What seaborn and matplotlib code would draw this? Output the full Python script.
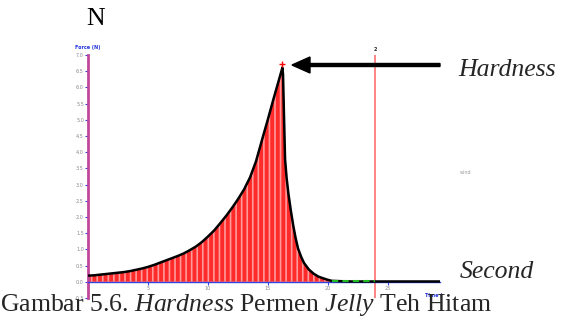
import matplotlib
matplotlib.use("Agg")
import matplotlib.pyplot as plt
import seaborn as sns
import pandas as pd

# ---- data ----
time_s = [0, 0.5, 1, 1.5, 2, 2.5, 3, 3.5, 4, 4.5, 5, 5.5, 6, 6.5, 7, 7.5, 8,
          8.5, 9, 9.5, 10, 10.5, 11, 11.5, 12, 12.5, 13, 13.5, 14, 14.5, 15,
          15.5, 16, 16.2, 16.25, 16.32, 16.42, 16.55, 16.7, 16.9, 17.1, 17.3,
          17.5, 17.75, 18.0, 18.4, 18.8, 19.2, 19.5, 19.9, 20.3, 21, 22, 23,
          24, 25, 26, 27, 28, 29.3]
force_n = [0.19, 0.20, 0.22, 0.24, 0.26, 0.28, 0.30, 0.33, 0.37, 0.41, 0.46,
           0.52, 0.59, 0.66, 0.73, 0.80, 0.88, 0.98, 1.09, 1.23, 1.40, 1.58,
           1.80, 2.03, 2.28, 2.55, 2.85, 3.22, 3.72, 4.38, 5.03, 5.70, 6.35,
           6.61, 6.40, 5.30, 3.78, 3.20, 2.72, 2.20, 1.74, 1.35, 1.03, 0.78,
           0.58, 0.38, 0.25, 0.16, 0.12, 0.07, 0.03, 0.02, 0.01, 0.01, 0.01,
           0.01, 0.01, 0.01, 0.01, 0.01]
peak_time, peak_force = 16.2, 6.61
marker_time = 23.9
green_time = [20.3, 21, 22, 23, 23.9]
green_force = [0.02, 0.02, 0.02, 0.02, 0.02]
x_ticks = [0, 5, 10, 15, 20, 25]
x_tick_labels = ["0", "5", "10", "15", "20", "25"]
y_ticks = [-0.5, 0.0, 0.5, 1.0, 1.5, 2.0, 2.5, 3.0, 3.5, 4.0, 4.5, 5.0, 5.5,
           6.0, 6.5, 7.0]
y_tick_labels = ["-0.5", "0.0", "0.5", "1.0", "1.5", "2.0", "2.5", "3.0", "3.5",
                 "4.0", "4.5", "5.0", "5.5", "6.0", "6.5", "7.0"]

df = pd.DataFrame({"time": time_s, "force": force_n})

sns.set_style("white")
plt.rcParams["font.family"] = ["Liberation Serif", "DejaVu Serif"]
plt.rcParams["mathtext.fontset"] = "custom"
plt.rcParams["mathtext.rm"] = "Liberation Serif"
plt.rcParams["mathtext.it"] = "Liberation Serif:italic"
plt.rcParams["hatch.linewidth"] = 1.2

W, H = 562, 317
fig = plt.figure(figsize=(W / 100, H / 100), dpi=100)
# axes: x 88..440 px, y 55..298 px (top-down)
ax = fig.add_axes([88 / W, (H - 298) / H, (440 - 88) / W, (298 - 55) / H])
ax.set_xlim(0, 29.33)
ax.set_ylim(-0.5, 7.0)

# fill with stripes
ax.fill_between(df["time"], 0, df["force"], facecolor="#ff2a2a",
                edgecolor="#ff9a9a", hatch="|||", linewidth=0, zorder=1)
sns.lineplot(data=df, x="time", y="force", color="black", linewidth=1.8,
             ax=ax, zorder=3, estimator=None, sort=False)
ax.plot(green_time, green_force, color="#22bb22", linewidth=1.5,
        linestyle=(0, (3, 2)), zorder=4)
ax.plot([peak_time], [peak_force + 0.12], marker="+", color="red",
        markersize=4, markeredgewidth=1, zorder=5)

# red vertical marker line
ax.axvline(marker_time, color="#ff7070", linewidth=1.2, zorder=2)
ax.text(marker_time, 7.1, "2", fontsize=3.5, ha="center", va="bottom",
        family="DejaVu Sans", fontweight="bold")

# spines
for s in ["top", "right"]:
    ax.spines[s].set_visible(False)
ax.spines["left"].set_color("#c0479c")
ax.spines["left"].set_linewidth(2)
ax.spines["bottom"].set_position(("data", 0))
ax.spines["bottom"].set_color("#3344dd")
ax.spines["bottom"].set_linewidth(1)

ax.set_xticks(x_ticks)
ax.set_xticklabels(x_tick_labels)
ax.set_yticks(y_ticks)
ax.set_yticklabels(y_tick_labels)
ax.tick_params(axis="both", which="both", length=2, width=0.8,
               color="#3344dd", labelsize=3.5, labelcolor="#888888", pad=1,
               direction="out", left=True, bottom=True)
for lbl in ax.get_xticklabels() + ax.get_yticklabels():
    lbl.set_family("DejaVu Sans")
ax.set_xlabel("")
ax.set_ylabel("")
ax.grid(False)
ax.patch.set_alpha(0)


def fx(px):
    return px / W


def fy(py):
    return 1 - py / H


fig.text(fx(75), fy(47), "Force (N)", fontsize=3.5, color="#2233dd",
         family="DejaVu Sans", fontweight="bold", va="center", ha="left")
fig.text(fx(425), fy(295), "Time (", fontsize=3.5, color="#2233dd",
         family="DejaVu Sans", fontweight="bold", va="center", ha="left")
fig.text(fx(460), fy(172), "wind", fontsize=3.5, color="#999999",
         family="DejaVu Sans", va="center", ha="left")

FS = 18.5
fig.text(fx(96), fy(19), "N", fontsize=FS, color="black", ha="center",
         va="center")
fig.text(fx(458), fy(70), "Hardness", fontsize=FS, style="italic",
         ha="left", va="center")
fig.text(fx(460), fy(272), "Second", fontsize=FS, style="italic",
         ha="left", va="center")
fig.text(fx(0), fy(305), "Gambar 5.6. $\\it{Hardness}$ Permen $\\it{Jelly}$ Teh Hitam",
         fontsize=FS, ha="left", va="center")

fig.patches.append(matplotlib.patches.FancyArrow(
    fx(440), fy(65), fx(292) - fx(440), 0, width=3 / H,
    head_width=16 / H, head_length=18 / W, length_includes_head=True,
    color="black", transform=fig.transFigure, figure=fig))

fig.savefig("out.png", dpi=100)
